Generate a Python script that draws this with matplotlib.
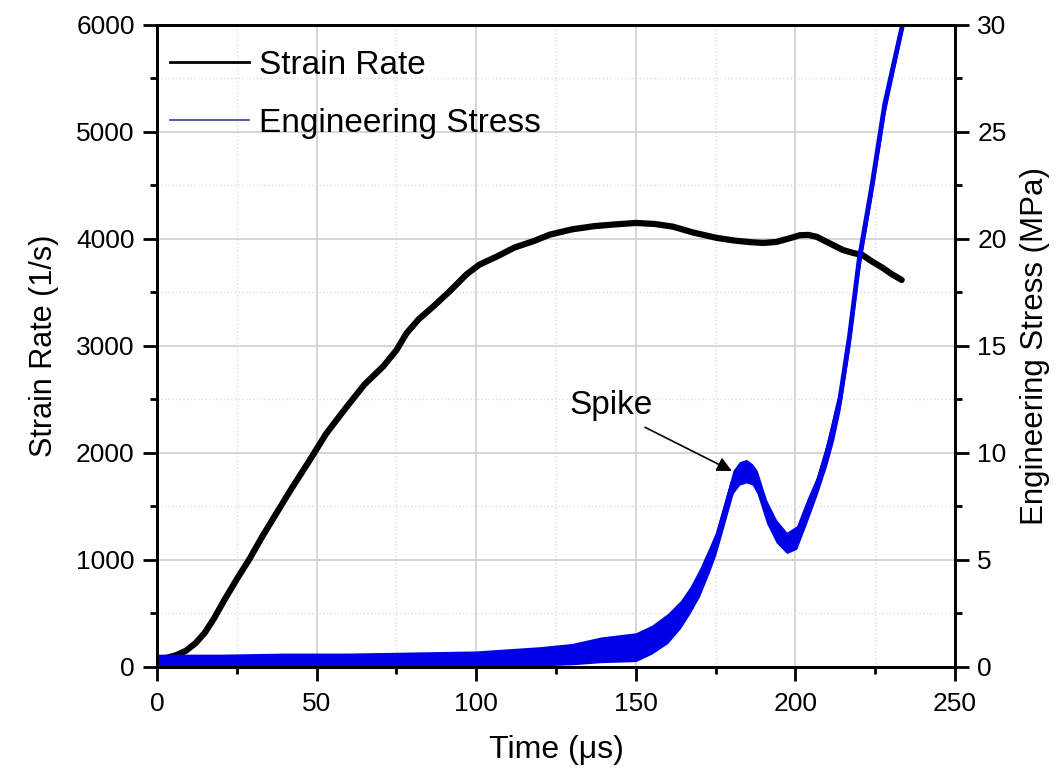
import matplotlib
matplotlib.use('Agg')
import matplotlib.pyplot as plt
from matplotlib.lines import Line2D
from matplotlib.ticker import MultipleLocator

plt.rcParams['font.family'] = ['Liberation Sans', 'DejaVu Sans']

# strain rate curve
sr_time = [0, 3, 6, 9, 12, 15, 18, 21, 25, 29, 33, 37.5, 42, 47.9, 53, 59.4, 65, 70.9, 75, 78.2, 82,
           86.6, 92, 97, 101, 106.4, 112, 118, 123, 130, 137, 143, 150, 156, 161.7, 168, 175.4, 181,
           186, 189.9, 194, 198, 201.4, 204, 206.7, 210, 214.9, 218, 221, 224, 227.4, 230, 233.3]
sr_vals = [70, 85, 110, 150, 220, 320, 460, 620, 820, 1010, 1220, 1440, 1660, 1935, 2180, 2430, 2640,
           2810, 2960, 3120, 3250, 3370, 3520, 3670, 3760, 3835, 3920, 3980, 4040, 4090, 4120, 4135,
           4150, 4140, 4115, 4060, 4010, 3985, 3970, 3963, 3972, 4005, 4035, 4038, 4020, 3970, 3897,
           3870, 3850, 3790, 3729, 3675, 3617]

# engineering stress: lower / upper edge of the noisy trace (MPa)
es_time = [0, 20, 40, 60, 80, 100, 110, 120, 130, 139, 150, 155, 160, 164, 167, 170, 173, 175, 177.3,
           180.5, 182.5, 184.7, 186.5, 188, 191, 194, 197.3, 200.4, 203.5, 206.7, 209.8, 212, 214,
           217, 220, 224, 228, 233.7]
es_low = [0, 0, 0, 0, 0, 0, 0, 0.05, 0.1, 0.2, 0.25, 0.6, 1.1, 1.8, 2.5, 3.3, 4.4, 5.2, 6.4,
          8.1, 8.5, 8.6, 8.5, 8.1, 6.7, 5.8, 5.3, 5.5, 6.7, 8.0, 9.4, 10.6, 12.0,
          14.9, 18.5, 22.0, 25.8, 29.8]
es_high = [0.6, 0.6, 0.65, 0.65, 0.7, 0.75, 0.85, 0.95, 1.1, 1.4, 1.6, 1.95, 2.5, 3.1, 3.75, 4.6, 5.6, 6.3, 7.5,
           9.2, 9.6, 9.7, 9.5, 9.2, 7.8, 6.9, 6.3, 6.6, 7.8, 8.9, 10.5, 11.9, 13.1,
           16.1, 19.6, 23.0, 26.8, 30.4]
es_mid = [(a + b) / 2 for a, b in zip(es_low, es_high)]

fig = plt.figure(figsize=(10.57, 7.76), dpi=100)
ax = fig.add_axes([0.1485, 0.1405, 0.755, 0.8273])
ax2 = ax.twinx()

ax.plot(sr_time, sr_vals, color='black', lw=4.5, solid_capstyle='round', solid_joinstyle='round')
ax2.fill_between(es_time, es_low, es_high, color='#0000e6', lw=0)
ax2.plot(es_time, es_mid, color='#0000e6', lw=3.5, solid_joinstyle='round')

ax.set_xlim(0, 250)
ax.set_ylim(0, 6000)
ax2.set_ylim(0, 30)

ax.xaxis.set_major_locator(MultipleLocator(50))
ax.xaxis.set_minor_locator(MultipleLocator(25))
ax.yaxis.set_major_locator(MultipleLocator(1000))
ax.yaxis.set_minor_locator(MultipleLocator(500))
ax2.yaxis.set_major_locator(MultipleLocator(5))
ax2.yaxis.set_minor_locator(MultipleLocator(2.5))

ax.grid(True, which='major', color='#cfcfcf', lw=1.2, ls='-')
ax.grid(True, which='minor', color='#dedede', lw=1.0, ls=':')
ax.set_axisbelow(True)

for a in (ax, ax2):
    for s in a.spines.values():
        s.set_linewidth(2)
    a.tick_params(which='major', direction='out', length=10, width=2, labelsize=19)
    a.tick_params(which='minor', direction='out', length=5, width=2)
ax.tick_params(axis='x', pad=8)
ax.tick_params(axis='y', pad=6)
ax2.tick_params(axis='y', pad=6)

ax.set_xlabel('Time (\u03bcs)', fontsize=23, labelpad=14)
ax.set_ylabel('Strain Rate (1/s)', fontsize=22, labelpad=12)
ax2.set_ylabel('Engineering Stress (MPa)', fontsize=22.5, labelpad=10)

handles = [Line2D([], [], color='black', lw=2),
           Line2D([], [], color='#3c3ca0', lw=1.2)]
ax2.legend(handles, ['Strain Rate', 'Engineering Stress'], loc='upper left', frameon=False,
           fontsize=24, handlelength=2.35, handletextpad=0.3, labelspacing=0.8,
           bbox_to_anchor=(-0.021, 1.008))

ax2.text(142.2, 12.24, 'Spike', fontsize=24, ha='center', va='center')
ax2.annotate('', xy=(180.1, 9.16), xytext=(152.9, 11.2),
             arrowprops=dict(arrowstyle='-|>', color='black', lw=1.2, mutation_scale=22,
                             shrinkA=0, shrinkB=0))

fig.savefig('out.png', dpi=100)
